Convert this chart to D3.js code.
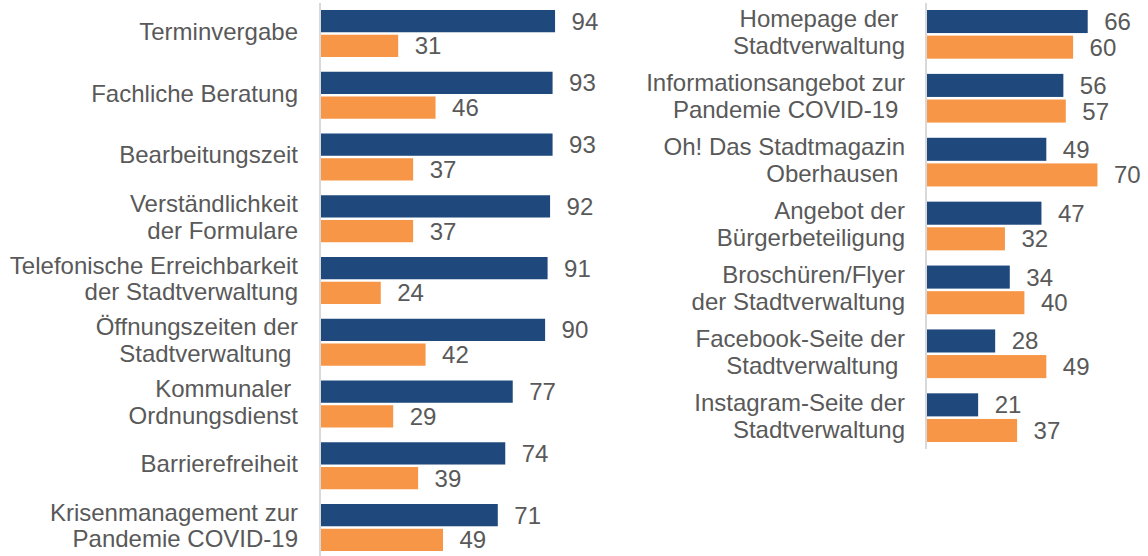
<!DOCTYPE html>
<html>
  <head>
    <meta charset="utf-8">
    <title>Zufriedenheit</title>
    <script src="https://cdn.jsdelivr.net/npm/d3@7"></script>
    <style>
      body { margin: 0; background: #fff; }
      text { font-family: "Liberation Sans", Arial, sans-serif; fill: #595959; white-space: pre; }
    </style>
  </head>
  <body>
    <svg width="1148" height="556" id="mainsvg"></svg>
    <script>
    // left panel: Verwaltungsleistungen
    const leftCats = [
        ['Terminvergabe'],
        ['Fachliche Beratung'],
        ['Bearbeitungszeit'],
        ['Verständlichkeit', 'der Formulare'],
        ['Telefonische Erreichbarkeit', 'der Stadtverwaltung'],
        ['Öffnungszeiten der', 'Stadtverwaltung '],
        ['Kommunaler ', 'Ordnungsdienst'],
        ['Barrierefreiheit'],
        ['Krisenmanagement zur', 'Pandemie COVID-19']
    ];
    const leftBlue   = [94, 93, 93, 92, 91, 90, 77, 74, 71];
    const leftOrange = [31, 46, 37, 37, 24, 42, 29, 39, 49];

    // right panel: Informationsangebote
    const rightCats = [
        ['Homepage der ', 'Stadtverwaltung'],
        ['Informationsangebot zur', 'Pandemie COVID-19 '],
        ['Oh! Das Stadtmagazin', 'Oberhausen '],
        ['Angebot der', 'Bürgerbeteiligung'],
        ['Broschüren/Flyer', 'der Stadtverwaltung'],
        ['Facebook-Seite der', 'Stadtverwaltung '],
        ['Instagram-Seite der', 'Stadtverwaltung']
    ];
    const rightBlue   = [66, 56, 49, 47, 34, 28, 21];
    const rightOrange = [60, 57, 70, 32, 40, 49, 37];

    const seriesKeys = ['blue', 'orange'];
    const color = d3.scaleOrdinal().domain(seriesKeys).range(['#1f497d', '#f79646']);

    let svg = d3.select('#mainsvg');
    const fs = 24, lh = 27;

    function panel(cats, blue, orange, opt) {
        const g = svg.append('g');
        const rows = cats.map((c, i) => ({i: i, label: c, vals: [blue[i], orange[i]]}));

        const x = d3.scaleLinear().domain([0, 100]).range([opt.x0, opt.x0 + opt.perUnit * 100]);
        const y = d3.scaleBand().domain(d3.range(cats.length))
            .range([opt.y0, opt.y1]).paddingInner(opt.pad).paddingOuter(0);
        const ys = d3.scaleBand().domain(seriesKeys).range([0, y.bandwidth()]).paddingInner(0.1);

        // axis line
        g.append('line')
            .attr('x1', opt.x0 - 1).attr('x2', opt.x0 - 1)
            .attr('y1', 3).attr('y2', opt.axisEnd)
            .attr('stroke', '#d9d9d9').attr('stroke-width', 2);

        const row = g.selectAll('g.row').data(rows).join('g')
            .attr('class', 'row')
            .attr('transform', d => `translate(0,${y(d.i)})`);

        row.selectAll('rect').data(d => d.vals.map((v, k) => ({k: seriesKeys[k], v: v}))).join('rect')
            .attr('x', x(0))
            .attr('y', d => ys(d.k))
            .attr('width', d => x(d.v) - x(0))
            .attr('height', ys.bandwidth())
            .attr('fill', d => color(d.k));

        row.selectAll('text.val').data(d => d.vals.map((v, k) => ({k: seriesKeys[k], v: v}))).join('text')
            .attr('class', 'val')
            .attr('x', d => x(d.v) + 16.5)
            .attr('y', d => ys(d.k) + ys.bandwidth() / 2 + 8.5)
            .attr('font-size', fs)
            .text(d => d.v);

        const lab = row.append('text')
            .attr('text-anchor', 'end')
            .attr('font-size', fs);
        lab.selectAll('tspan').data(d => d.label.map((t, j) => ({t: t, j: j, n: d.label.length}))).join('tspan')
            .attr('x', opt.labelX)
            .attr('y', d => y.bandwidth() / 2 + 6.5 + (d.j - (d.n - 1) / 2) * lh)
            .text(d => d.t);
    }

    panel(leftCats, leftBlue, leftOrange,
        {x0: 321, perUnit: 2.49, y0: 10, y1: 551, pad: 0.239, labelX: 298, axisEnd: 556});
    panel(rightCats, rightBlue, rightOrange,
        {x0: 927, perUnit: 2.435, y0: 10, y1: 442, pad: 0.238, labelX: 905, axisEnd: 449});
    </script>
  </body>
</html>
